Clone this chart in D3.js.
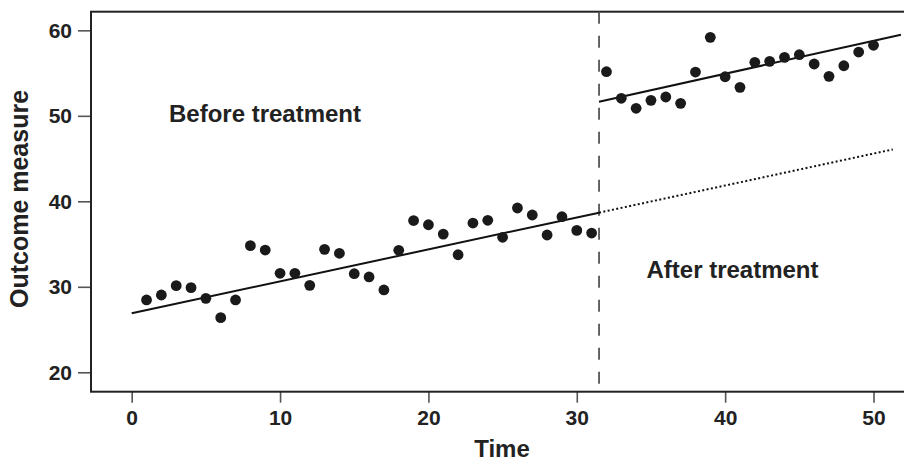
<!DOCTYPE html>
<html>
<head>
<meta charset="utf-8">
<script src="https://cdn.jsdelivr.net/npm/d3@7"></script>
<style>
  html, body { margin: 0; padding: 0; background: #fff; }
  svg { display: block; }
  text { font-family: "Liberation Sans", Arial, Helvetica, sans-serif; font-weight: bold; fill: #222; }
</style>
</head>
<body>
<svg id="chart" width="904" height="468"></svg>
<script>
// Observation times and outcome values
const timesBefore = d3.range(1, 32);
const valuesBefore = [28.46, 29.04, 30.13, 29.90, 28.65, 26.39, 28.46, 34.81, 34.30, 31.58,
                      31.58, 30.17, 34.38, 33.92, 31.53, 31.15, 29.63, 34.27, 37.75, 37.26,
                      36.17, 33.75, 37.46, 37.78, 35.79, 39.22, 38.40, 36.06, 38.20, 36.60, 36.29];
const timesAfter = d3.range(32, 51);
const valuesAfter = [55.16, 52.05, 50.88, 51.81, 52.20, 51.46, 55.12, 59.18, 54.57, 53.33,
                     56.26, 56.37, 56.84, 57.15, 56.06, 54.62, 55.86, 57.46, 58.25];

// Fitted trends: [intercept at time 0, slope]
const trendBefore = [26.9, 0.3737];
const trendAfter = [51.65 - 0.385 * 31.5, 0.385];
const treatmentTime = 31.5;

const xTicks = [0, 10, 20, 30, 40, 50];
const yTicks = [20, 30, 40, 50, 60];

const svg = d3.select("#chart");
const x = d3.scaleLinear().domain([-2.743, 52.19]).range([91, 906]);
const y = d3.scaleLinear().domain([17.73, 62.18]).range([391.7, 11.7]);

const [x0, x1] = x.range();
const [yb, yt] = y.range();

// Axes
const xAxis = svg.append("g")
  .attr("transform", `translate(0,${yb})`)
  .call(d3.axisBottom(x).tickValues(xTicks).tickFormat(d3.format("d")).tickSize(11));
const yAxis = svg.append("g")
  .attr("transform", `translate(${x0},0)`)
  .call(d3.axisLeft(y).tickValues(yTicks).tickFormat(d3.format("d")).tickSize(13).tickPadding(6));
[xAxis, yAxis].forEach(g => {
  g.select(".domain").remove();
  g.selectAll(".tick line").attr("stroke", "#555").attr("stroke-width", 1.6);
  g.selectAll(".tick text").attr("font-size", 21).attr("fill", "#222")
    .style("font-family", '"Liberation Sans", Arial, sans-serif').style("font-weight", "bold");
});
xAxis.selectAll(".tick text").attr("dy", null).attr("y", 33.5);

// Plot frame
svg.append("rect")
  .attr("x", x0).attr("y", yt)
  .attr("width", x1 - x0).attr("height", yb - yt)
  .attr("fill", "none").attr("stroke", "#222").attr("stroke-width", 2);

// Treatment boundary
svg.append("line")
  .attr("x1", x(treatmentTime)).attr("x2", x(treatmentTime))
  .attr("y1", yt).attr("y2", yb)
  .attr("stroke", "#555").attr("stroke-width", 1.8)
  .attr("stroke-dasharray", "12,12");

const line = d3.line().x(d => x(d[0])).y(d => y(d[1]));
const trendAt = (t, p) => [t, p[0] + p[1] * t];

// Pre-treatment trend, and its projection after treatment
svg.append("path")
  .attr("d", line([trendAt(0, trendBefore), trendAt(treatmentTime, trendBefore)]))
  .attr("stroke", "#111").attr("stroke-width", 2).attr("fill", "none");
svg.append("path")
  .attr("d", line([trendAt(treatmentTime, trendBefore), trendAt(51.3, trendBefore)]))
  .attr("stroke", "#111").attr("stroke-width", 2).attr("fill", "none")
  .attr("stroke-dasharray", "2,2.4");

// Post-treatment trend
svg.append("path")
  .attr("d", line([trendAt(treatmentTime, trendAfter), trendAt(51.85, trendAfter)]))
  .attr("stroke", "#111").attr("stroke-width", 2).attr("fill", "none");

// Observations
const points = timesBefore.map((t, i) => [t, valuesBefore[i]])
  .concat(timesAfter.map((t, i) => [t, valuesAfter[i]]));
svg.append("g").selectAll("circle").data(points).join("circle")
  .attr("cx", d => x(d[0])).attr("cy", d => y(d[1]))
  .attr("r", 5.4).attr("fill", "#1a1a1a");

// Annotations
svg.append("text").attr("x", 265).attr("y", 122.3).attr("text-anchor", "middle")
  .attr("font-size", 24).text("Before treatment");
svg.append("text").attr("x", 732.5).attr("y", 278.3).attr("text-anchor", "middle")
  .attr("font-size", 24).text("After treatment");

// Axis titles
svg.append("text").attr("x", 502).attr("y", 457).attr("text-anchor", "middle")
  .attr("font-size", 24).text("Time");
svg.append("text").attr("transform", "translate(28,199) rotate(-90)")
  .attr("text-anchor", "middle").attr("font-size", 25).text("Outcome measure");
</script>
</body>
</html>
